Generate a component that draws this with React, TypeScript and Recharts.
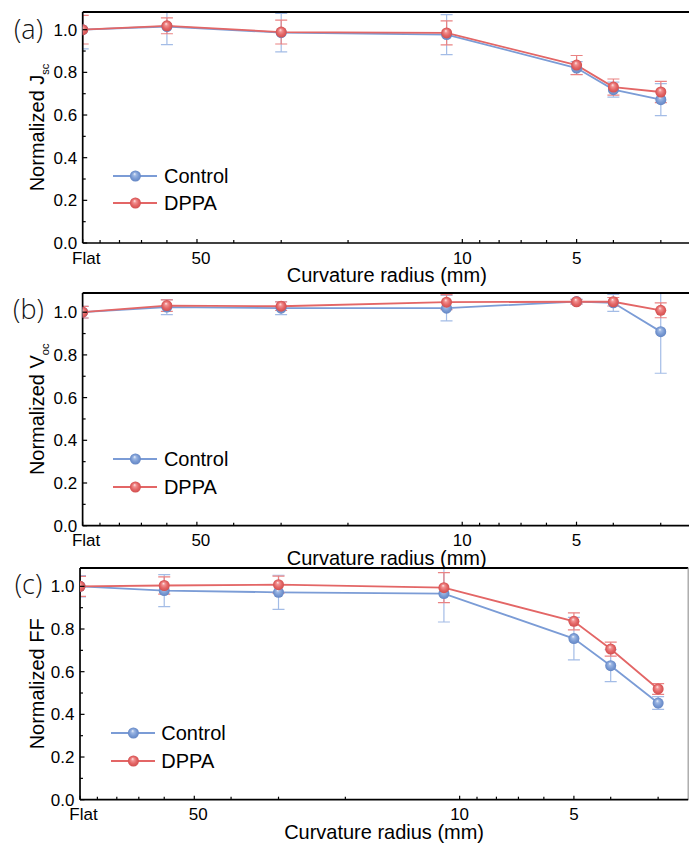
import React from 'react';
import { LineChart, Line, XAxis, YAxis, ErrorBar, ReferenceLine, Legend } from 'recharts';

// ---------- data ----------
// curvature radius in mm (100 stands for "Flat")
const radius = [100, 60, 30, 11, 5, 4, 3];
const xMajorTicks = [100, 50, 10, 5];
const xTickLabels = ['Flat', '50', '10', '5'];
const xMinorTicks = [90, 80, 70, 60, 40, 30, 20, 9, 8, 7, 6, 4, 3];
const yTicks = [0, 0.1, 0.2, 0.3, 0.4, 0.5, 0.6, 0.7, 0.8, 0.9, 1.0];
const seriesNames = ['Control', 'DPPA'];

const jscControl = [1.0, 1.015, 0.986, 0.977, 0.82, 0.719, 0.672];
const jscControlErr = [0.09, 0.085, 0.09, 0.094, 0.03, 0.035, 0.075];
const jscDppa = [1.0, 1.018, 0.989, 0.985, 0.834, 0.731, 0.708];
const jscDppaErr = [0.067, 0.037, 0.056, 0.056, 0.045, 0.038, 0.05];

const vocControl = [1.0, 1.024, 1.019, 1.019, 1.05, 1.044, 0.909];
const vocControlErr = [0.027, 0.035, 0.03, 0.06, 0.012, 0.04, 0.195];
const vocDppa = [1.0, 1.031, 1.028, 1.047, 1.049, 1.049, 1.009];
const vocDppaErr = [0.027, 0.027, 0.02, 0.035, 0.01, 0.02, 0.035];

const ffControl = [1.0, 0.98, 0.972, 0.966, 0.755, 0.628, 0.453];
const ffControlErr = [0.05, 0.075, 0.08, 0.133, 0.1, 0.075, 0.03];
const ffDppa = [1.0, 1.004, 1.008, 0.994, 0.836, 0.706, 0.519];
const ffDppaErr = [0.047, 0.04, 0.04, 0.07, 0.04, 0.033, 0.025];

// ---------- style ----------
const FONT = "'Liberation Sans', Arial, Helvetica, sans-serif";
const TAG_FONT = "'Open Sans', 'Noto Sans', sans-serif";
const BLUE = '#7b9cd6';
const RED = '#e36666';
const BLUE_ERR = '#a3bce6';
const RED_ERR = '#ea8282';
const X_MIN = 2.5;
const X_MAX = 100;
const PLOT_W = 608.2;
const CHART_W = 700;
const TOP_M = 12;

const buildRows = (c: number[], ce: number[], d: number[], de: number[]) =>
  radius.map((r, i) => ({ r, control: c[i], controlErr: ce[i], dppa: d[i], dppaErr: de[i] }));

const PANELS = [
  {
    id: 'pa', tag: '(a)', yMain: 'Normalized J', ySub: 'sc',
    plotLeft: 82.7, plotTop: 11.7, plotBottom: 242.7, yMax: 1.083,
    rows: buildRows(jscControl, jscControlErr, jscDppa, jscDppaErr),
  },
  {
    id: 'pb', tag: '(b)', yMain: 'Normalized V', ySub: 'oc',
    plotLeft: 82.6, plotTop: 293.3, plotBottom: 526, yMax: 1.09,
    rows: buildRows(vocControl, vocControlErr, vocDppa, vocDppaErr),
  },
  {
    id: 'pc', tag: '(c)', yMain: 'Normalized FF', ySub: '',
    plotLeft: 80, plotTop: 568.3, plotBottom: 800, yMax: 1.086,
    rows: buildRows(ffControl, ffControlErr, ffDppa, ffDppaErr),
  },
];

const xTicks = [...xMajorTicks, ...xMinorTicks].sort((a, b) => b - a);
const xLabelNudge: Record<string, number> = { Flat: 3.5, '50': 4 };

const Marker = (props: any) => {
  const { cx, cy, fill, index, clip } = props;
  if (cx == null || cy == null) return <g key={`m-${index}`} />;
  return <circle key={`m-${index}`} cx={cx} cy={cy} r={5.5} fill={fill} clipPath={clip} />;
};

const XTick = (props: any) => {
  const { x, y, payload } = props;
  const v = payload.value;
  const idx = xMajorTicks.indexOf(v);
  const major = idx >= 0;
  const lab = major ? xTickLabels[idx] : '';
  return (
    <g>
      <line x1={x} x2={x} y1={y} y2={y - (major ? 4 : 3)} stroke="#000" strokeWidth={1.2} />
      {major && (
        <text x={x + (xLabelNudge[lab] || 0)} y={y + 20.5} textAnchor="middle" fontSize={17} fontFamily={FONT} fill="#000">
          {lab}
        </text>
      )}
    </g>
  );
};

const YTick = (props: any) => {
  const { x, y, payload } = props;
  const v = payload.value;
  const major = Math.round(v * 10) % 2 === 0;
  return (
    <g>
      <line x1={x} x2={x + (major ? 4.5 : 3)} y1={y} y2={y} stroke="#000" strokeWidth={1.2} />
      {major && (
        <text x={x - 5.5} y={y} dy="0.36em" textAnchor="end" fontSize={17} fontFamily={FONT} fill="#000">
          {v.toFixed(1)}
        </text>
      )}
    </g>
  );
};

const LegendContent = (props: any) => {
  const payload = props.payload || [];
  return (
    <div style={{ fontFamily: FONT, fontSize: 20, color: '#000' }}>
      {payload.map((e: any, i: number) => (
        <div key={i} style={{ display: 'flex', alignItems: 'center', height: 27.6 }}>
          <svg width={44} height={14} style={{ display: 'block' }}>
            <line x1={0} y1={7} x2={44} y2={7} stroke={e.color} strokeWidth={1.8} />
            <circle cx={22.4} cy={7} r={5.5} fill={e.value === 'DPPA' ? 'url(#gRed)' : 'url(#gBlue)'} />
          </svg>
          <span style={{ marginLeft: 6.7, lineHeight: '22px' }}>{e.value}</span>
        </div>
      ))}
    </div>
  );
};

const Panel = ({ p }: { p: any }) => {
  const H = p.plotBottom - p.plotTop + TOP_M + 50;
  const boxTop = p.plotTop - TOP_M;
  const plotH = p.plotBottom - p.plotTop;
  const cyLabel = TOP_M + plotH / 2;
  const clip = `url(#clip-${p.id})`;

  const yLabel = () => (
    <g>
      <text
        x={43.5}
        y={cyLabel}
        transform={`rotate(-90, 43.5, ${cyLabel})`}
        textAnchor="middle"
        fontSize={20}
        fontFamily={FONT}
        fill="#000"
      >
        {p.yMain}
        {p.ySub ? (
          <tspan fontSize={11} dy={5.5}>
            {p.ySub}
          </tspan>
        ) : null}
      </text>
      <text x={28.5} y={TOP_M + 19.5 + 7} textAnchor="middle" fontSize={27} fontWeight={300} fontFamily={TAG_FONT} fill="#111">
        {p.tag}
      </text>
    </g>
  );

  const xLabel = () => (
    <text x={p.plotLeft + PLOT_W / 2} y={TOP_M + plotH + 39} textAnchor="middle" fontSize={20} fontFamily={FONT} fill="#000">
      Curvature radius (mm)
    </text>
  );

  const legendLeft = p.plotLeft + 30.6;
  const legendTop = p.plotBottom - 67 - 13.8 - boxTop;

  return (
    <div style={{ position: 'absolute', left: 0, top: boxTop, width: CHART_W, height: H }}>
      <svg width={0} height={0} style={{ position: 'absolute' }}>
        <defs>
          <clipPath id={`clip-${p.id}`} clipPathUnits="userSpaceOnUse">
            <rect x={p.plotLeft} y={TOP_M} width={PLOT_W} height={plotH} />
          </clipPath>
        </defs>
      </svg>
      <LineChart
        width={CHART_W}
        height={H}
        data={p.rows}
        margin={{ top: TOP_M, right: CHART_W - p.plotLeft - PLOT_W, bottom: 0, left: 0 }}
      >
        <XAxis
          dataKey="r"
          type="number"
          scale="log"
          domain={[X_MIN, X_MAX]}
          reversed
          allowDataOverflow
          ticks={xTicks}
          interval={0}
          tickSize={0}
          tickMargin={0}
          tickLine={false}
          tick={<XTick />}
          height={50}
          axisLine={{ stroke: '#000', strokeWidth: 1.7 }}
          label={xLabel}
        />
        <YAxis
          type="number"
          domain={[0, p.yMax]}
          allowDataOverflow
          ticks={yTicks}
          interval={0}
          width={p.plotLeft}
          tickSize={0}
          tickMargin={0}
          tickLine={false}
          tick={<YTick />}
          axisLine={{ stroke: '#000', strokeWidth: 1.7 }}
          label={yLabel}
        />
        <Legend
          layout="horizontal"
          verticalAlign="middle"
          content={<LegendContent />}
          wrapperStyle={{ left: legendLeft, top: legendTop, width: 160, height: 56 }}
        />
        <Line
          name={seriesNames[0]}
          dataKey="control"
          type="linear"
          stroke={BLUE}
          strokeWidth={1.8}
          isAnimationActive={false}
          dot={(dp: any) => <Marker {...dp} fill="url(#gBlue)" clip={clip} />}
          activeDot={false}
        >
          <ErrorBar
            dataKey="controlErr"
            width={6}
            strokeWidth={1.2}
            stroke={BLUE_ERR}
            direction="y"
            clipPath={clip}
            isAnimationActive={false}
          />
        </Line>
        <Line
          name={seriesNames[1]}
          dataKey="dppa"
          type="linear"
          stroke={RED}
          strokeWidth={1.8}
          isAnimationActive={false}
          dot={(dp: any) => <Marker {...dp} fill="url(#gRed)" clip={clip} />}
          activeDot={false}
        >
          <ErrorBar
            dataKey="dppaErr"
            width={6}
            strokeWidth={1.2}
            stroke={RED_ERR}
            direction="y"
            clipPath={clip}
            isAnimationActive={false}
          />
        </Line>
        <ReferenceLine y={p.yMax} stroke="#000" strokeWidth={2} />
        <ReferenceLine x={X_MIN} stroke="#9a9a9a" strokeWidth={1.2} />
      </LineChart>
    </div>
  );
};

export default function App() {
  return (
    <div
      style={{
        position: 'absolute',
        left: 0,
        top: 0,
        width: 689,
        height: 845,
        overflow: 'hidden',
        background: '#fff',
      }}
    >
      <svg width={0} height={0} style={{ position: 'absolute' }}>
        <defs>
          <radialGradient id="gBlue" cx="0.5" cy="0.5" r="0.5" fx="0.42" fy="0.3">
            <stop offset="0" stopColor="#eef3fc" />
            <stop offset="0.28" stopColor="#9db7e3" />
            <stop offset="0.65" stopColor="#7a9bd4" />
            <stop offset="1" stopColor="#6486c4" />
          </radialGradient>
          <radialGradient id="gRed" cx="0.5" cy="0.5" r="0.5" fx="0.42" fy="0.3">
            <stop offset="0" stopColor="#fdeaea" />
            <stop offset="0.28" stopColor="#f19090" />
            <stop offset="0.65" stopColor="#e36666" />
            <stop offset="1" stopColor="#d24f4f" />
          </radialGradient>
        </defs>
      </svg>
      {PANELS.map((p, i) => (
        <Panel key={i} p={p} />
      ))}
    </div>
  );
}
